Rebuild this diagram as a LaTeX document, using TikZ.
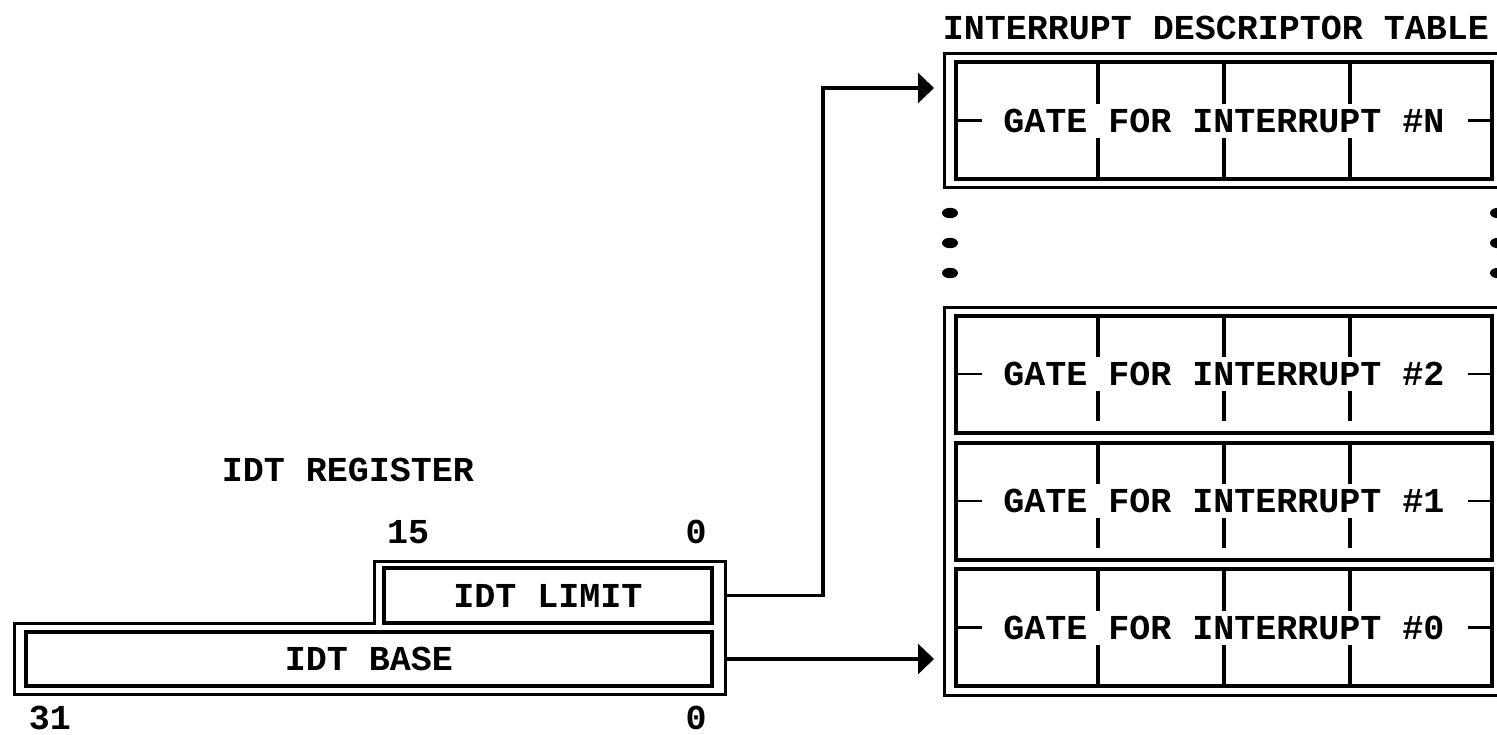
\documentclass[tikz,border=0pt]{standalone}
\usepackage{fontspec}
\usepackage{tikz}
\usetikzlibrary{positioning, arrows.meta, calc}
\newfontfamily\dosfont{Liberation Mono}
\newcommand{\dostext}{\dosfont\bfseries\fontsize{17.5pt}{18pt}\selectfont}

\begin{document}
\begin{tikzpicture}[x=0.5pt, y=-0.5pt,
  lab/.style={font=\dostext, inner sep=0pt, text height=11.5pt, text depth=0pt},
  gate/.style={lab, draw, line width=2pt, outer sep=0pt, minimum width=268pt, minimum height=58.5pt},
  reg/.style={lab, draw, line width=2pt, outer sep=0pt},
  rim/.style={line width=1.5pt},
  tk/.style={line width=2pt},
  stub/.style={line width=1.3pt},
  ptr/.style={line width=1.6pt, -{Triangle[length=8pt, width=15pt]}, shorten >=11pt}]
\path[use as bounding box] (0,0) rectangle (1497,734);
\clip (0,0) rectangle (1497,734);
% descriptor table
\node[lab] (idttitle) at (1216,28) {INTERRUPT DESCRIPTOR TABLE};
\node[gate] (gateN) at (1224,120.5) {GATE FOR INTERRUPT \#N};
\node[gate] (gate2) at (1224,374) {GATE FOR INTERRUPT \#2};
\node[gate] (gate1) at (1224,501) {GATE FOR INTERRUPT \#1};
\node[gate] (gate0) at (1224,627.5) {GATE FOR INTERRUPT \#0};
\draw[rim] (944,53) rectangle (1504,187);
\draw[rim] (944,307) rectangle (1504,695);
\foreach \g/\cut in {gateN/0, gate2/12, gate1/12, gate0/0} {
  \foreach \dx in {-126,0,126} {
    \draw[tk] ($(\g.north)+(\dx,0)$) -- ($(\g.center)+(\dx,-17)$);
    \draw[tk] ($(\g.center)+(\dx,17)$) -- ($(\g.south)+(\dx,-\cut)$);
  }
  \draw[stub] (\g.west) -- ++(26,0);
  \draw[stub] (\g.east) -- ++(-24,0);
}
\foreach \y in {213,243,273} {
  \fill (950,\y) ellipse [x radius=4pt, y radius=2.6pt];
  \fill (1498,\y) ellipse [x radius=4pt, y radius=2.6pt];
}
% IDT register
\node[lab] (regtitle) at (348,470) {IDT REGISTER};
\node[reg, minimum width=164pt, minimum height=27.5pt] (limit) at (548,595.5) {IDT LIMIT};
\node[reg, minimum width=343pt, minimum height=27pt] (base) at (369,659) {IDT BASE};
\draw[rim] (374,561) -- (725,561) -- (725,694) -- (14,694) -- (14,623) -- (374,623) -- cycle;
\node[lab] (hi15) at (408,532) {15};
\node[lab] (lo0a) at (696,532) {0};
\node[lab] (hi31) at (50,718) {31};
\node[lab] (lo0b) at (696,718) {0};
% pointers
\coordinate (bend) at (823,88);
\draw[ptr] ([xshift=6.5pt]limit.east) -| (bend) -- (bend -| gateN.west);
\draw[ptr] ([xshift=6.5pt]base.east) -- (base.east -| gate0.west);
\end{tikzpicture}
\end{document}
